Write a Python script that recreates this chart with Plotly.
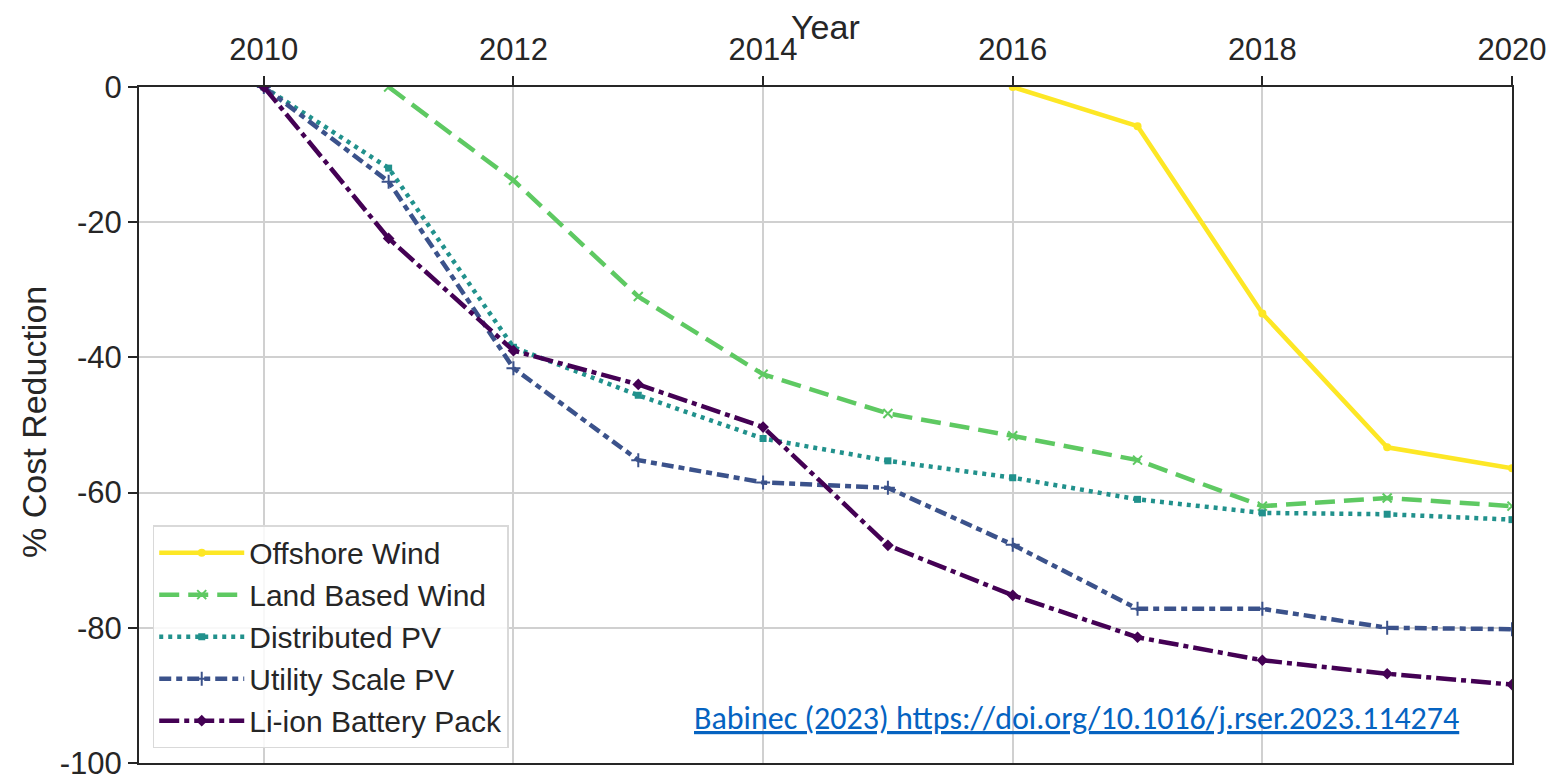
import plotly.graph_objects as go

years_offshore = [2016, 2017, 2018, 2019, 2020]
offshore_wind = [0, -5.8, -33.5, -53.3, -56.4]

years_land = [2011, 2012, 2013, 2014, 2015, 2016, 2017, 2018, 2019, 2020]
land_wind = [0, -13.8, -31.0, -42.5, -48.3, -51.6, -55.2, -62.0, -60.8, -62.0]

years_all = [2010, 2011, 2012, 2013, 2014, 2015, 2016, 2017, 2018, 2019, 2020]
distributed_pv = [0, -12.0, -38.5, -45.6, -52.0, -55.3, -57.8, -61.0, -63.0, -63.2, -64.0]
utility_pv = [0, -14.0, -41.6, -55.2, -58.5, -59.3, -67.7, -77.2, -77.2, -80.0, -80.2]
li_ion = [0, -22.4, -39.0, -44.0, -50.3, -67.8, -75.2, -81.4, -84.8, -86.8, -88.4]

x_ticks = [2010, 2012, 2014, 2016, 2018, 2020]
y_ticks = [0, -20, -40, -60, -80, -100]
y_tick_labels = ["0", "-20", "-40", "-60", "-80", "-100"]

series = [
    ("Offshore Wind", years_offshore, offshore_wind, "#fde725", "solid", "circle", 8),
    ("Land Based Wind", years_land, land_wind, "#5ec962", "20px,9px", "x-thin", 9),
    ("Distributed PV", years_all, distributed_pv, "#21918c", "4px,5px", "square", 7),
    ("Utility Scale PV", years_all, utility_pv, "#3b528b", "12px,5px,6px,5px", "cross-thin", 10),
    ("Li-ion Battery Pack", years_all, li_ion, "#440154", "20px,5px,5px,5px", "diamond", 9),
]

fig = go.Figure()
for name, xs, ys, color, dash, sym, size in series:
    thin = sym.endswith("-thin")
    fig.add_trace(go.Scatter(
        x=xs, y=ys, name=name, mode="lines+markers",
        line=dict(color=color, width=4.5, dash=dash),
        marker=dict(symbol=sym, size=size, color=color,
                    line=dict(color=color, width=2 if thin else 0)),
    ))

axis_font = dict(family="Liberation Sans, Arial, sans-serif", size=31, color="#262626")
title_font = dict(family="Liberation Sans, Arial, sans-serif", size=34, color="#262626")

fig.update_layout(
    width=1551, height=769,
    margin=dict(l=131, r=47, t=79, b=14, autoexpand=False),
    paper_bgcolor="white", plot_bgcolor="white",
    font=dict(family="Liberation Sans, Arial, sans-serif", color="#262626"),
    xaxis=dict(
        side="top", range=[2009, 2020], tickvals=x_ticks, automargin=False,
        ticks="outside", ticklen=9, tickwidth=1.5, tickcolor="#262626",
        ticklabelstandoff=4, ticklabeloverflow="allow",
        tickfont=axis_font, showgrid=True, gridcolor="#d0d0d0", gridwidth=1.5,
        showline=True, linecolor="#262626", linewidth=2, mirror=True,
        zeroline=False,
    ),
    yaxis=dict(
        range=[-100, 0], tickvals=y_ticks, ticktext=y_tick_labels, automargin=False,
        ticks="outside", ticklen=9, tickwidth=1.5, tickcolor="#262626",
        ticklabelstandoff=0, ticklabeloverflow="allow",
        tickfont=axis_font, showgrid=True, gridcolor="#d0d0d0", gridwidth=1.5,
        showline=True, linecolor="#262626", linewidth=2, mirror=True,
        zeroline=False,
    ),
    legend=dict(
        x=0.01, y=0.022, xanchor="left", yanchor="bottom",
        bgcolor="rgba(255,255,255,0.85)", bordercolor="#d9d9d9", borderwidth=1.5,
        font=dict(size=30, color="#262626"), itemwidth=85,
    ),
    showlegend=True,
)

# axis titles
fig.add_annotation(
    xref="paper", yref="paper", x=0.5, y=1.089, xanchor="center", yanchor="middle",
    text="Year", showarrow=False, font=title_font, borderpad=0,
)
fig.add_annotation(
    xref="paper", yref="paper", x=-0.077, y=0.505, xanchor="center", yanchor="middle",
    text="% Cost Reduction", textangle=-90, showarrow=False, font=title_font,
)

fig.add_annotation(
    xref="paper", yref="paper", x=0.963, y=0.066, xanchor="right", yanchor="middle",
    text="<u>Babinec (2023) https://doi.org/10.1016/j.rser.2023.114274</u>",
    showarrow=False,
    font=dict(family="Carlito, Liberation Sans Narrow, Open Sans, sans-serif", size=32, color="#0563C1"),
)

fig.write_html("out.html")
